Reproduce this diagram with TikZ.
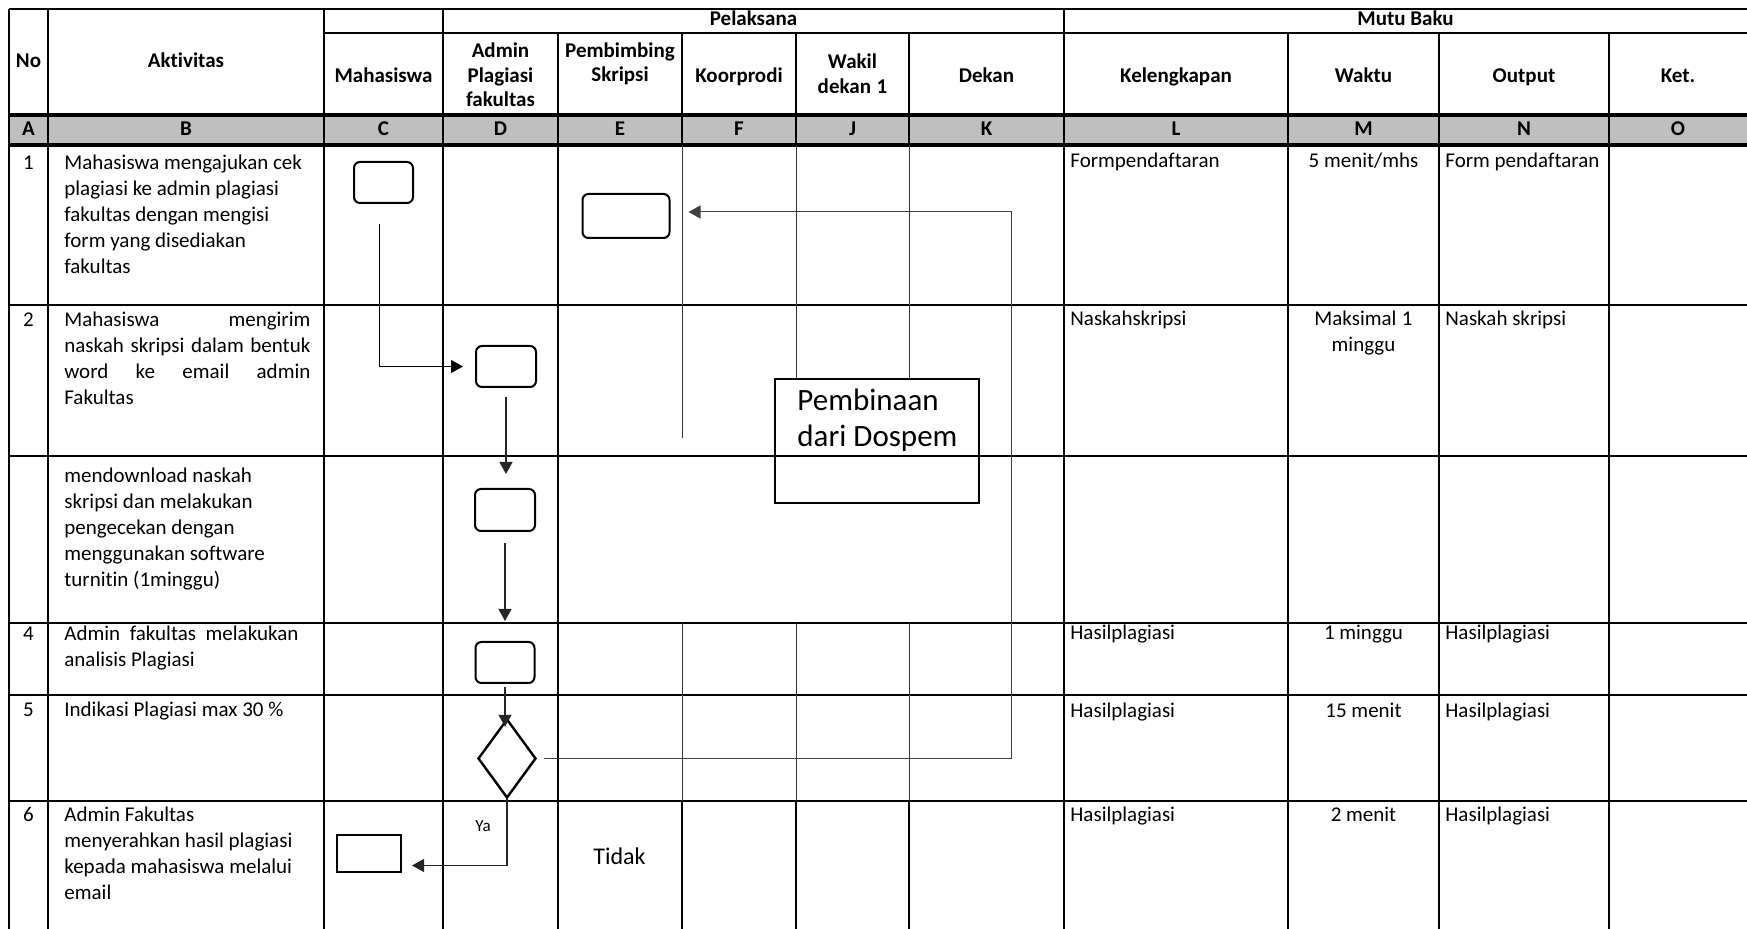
\documentclass[tikz,border=0pt]{standalone}
\usepackage{fontspec}
\setmainfont{Carlito}[Ligatures=NoCommon]
\usetikzlibrary{arrows.meta,shapes.geometric,positioning}
\newcommand{\spreadrow}[1]{\makebox[123pt][s]{#1}}
\newcommand{\natgap}{\spaceskip 0pt\relax\xspaceskip 0pt\relax}

\begin{document}
\begin{tikzpicture}[
  x=0.5pt, y=-0.5pt,
  font=\fontsize{10.5}{13}\selectfont,
  >={Triangle[length=6pt,width=6.5pt]},
  tline/.style={line width=1pt},
  theavy/.style={line width=2pt},
  thair/.style={line width=0.5pt, draw=black!80},
  head/.style={font=\bfseries\fontsize{10.5}{12.25}\selectfont, inner sep=0pt, anchor=base},
  headwide/.style={head, text width=#1, align=center},
  centred/.style={inner sep=0pt, anchor=base},
  cell/.style={inner sep=0pt, anchor=base west},
  celltext/.style={cell, text width=123pt, align=left},
  act/.style={draw, rounded corners=3pt, line width=1pt, inner sep=0pt},
  flow/.style={->, line width=0.6pt, draw=black!85},
  retour/.style={->, line width=0.5pt, draw=black!75}
]
  \useasboundingbox (0,0) rectangle (1747,929);

  % table grid
  \fill[black!25] (9,115) rectangle (1747,145);
  \draw[tline] (9,9) -- (1747,9);
  \draw[tline] (324,33) -- (1747,33);
  \draw[theavy] (9,115) -- (1747,115) (9,145) -- (1747,145);
  \foreach \y in {305,456,623,695,801}
    \draw[tline] (9,\y) -- (1747,\y);
  \foreach \x in {9,48,324,443,1064}
    \draw[tline] (\x,9) -- (\x,929);
  \foreach \x in {558,1288,1439,1609}
    \draw[tline] (\x,33) -- (\x,929);
  \foreach \x in {682,796,909}
    \draw[tline] (\x,33) -- (\x,145) (\x,801) -- (\x,929);
  \foreach \x in {682,796,909}
    \draw[thair] (\x,145) -- (\x,305) (\x,623) -- (\x,801);
  \draw[thair] (682,305) -- (682,438) (796,305) -- (796,379) (909,305) -- (909,379);

  % header
  \node[head] (hNo) at (28.5,68) {No};
  \node[head] (hAkt) at (186,68) {Aktivitas};
  \node[head] (hPel) at (753.5,26) {Pelaksana};
  \node[head] (hMutu) at (1405.5,26) {Mutu Baku};
  \node[head] (hMhs) at (383.5,83) {Mahasiswa};
  \node[headwide=55pt] (hAdm) at (500.5,58) {Admin\\Plagiasi\\fakultas};
  \node[headwide=60pt] (hPmb) at (620,57.5) {Pembimbing\\Skripsi};
  \node[head] (hKpr) at (739,83) {Koorprodi};
  \node[headwide=50pt] (hWd) at (852.5,69) {\natgap Wakil\\dekan 1};
  \node[head] (hDkn) at (986.5,83) {Dekan};
  \node[head] (hKlk) at (1176,83) {Kelengkapan};
  \node[head] (hWkt) at (1363.5,83) {Waktu};
  \node[head] (hOut) at (1524,83) {Output};
  \node[head] (hKet) at (1678,83) {Ket.};
  \foreach \x/\l in {28.5/A,186/B,383.5/C,500.5/D,620/E,739/F,852.5/J,986.5/K,1176/L,1363.5/M,1524/N,1678/O}
    \node[head] (col\l) at (\x,136) {\l};

  % rows
  \node[centred] (no1) at (28.5,170) {1};
  \node[centred] (no2) at (28.5,327) {2};
  \node[centred] (no4) at (28.5,641) {4};
  \node[centred] (no5) at (28.5,717) {5};
  \node[centred] (no6) at (28.5,822) {6};
  \node[celltext] (akt1) at (64,170) {\natgap Mahasiswa mengajukan cek\\plagiasi ke admin plagiasi\\fakultas dengan mengisi\\form yang disediakan\\fakultas};
  \node[celltext] (akt2) at (64,327) {\natgap\spreadrow{Mahasiswa mengirim}\\\spreadrow{naskah skripsi dalam bentuk}\\\spreadrow{word ke email admin}\\Fakultas};
  \node[celltext] (akt3) at (64,483) {\natgap mendownload naskah\\skripsi dan melakukan\\pengecekan dengan\\menggunakan software\\turnitin (1minggu)};
  \node[celltext] (akt4) at (64,641) {\natgap\makebox[117pt][s]{Admin fakultas melakukan}\\analisis Plagiasi};
  \node[celltext] (akt5) at (64,717) {\natgap Indikasi Plagiasi max 30 \%};
  \node[celltext] (akt6) at (64,822) {\natgap Admin Fakultas\\menyerahkan hasil plagiasi\\kepada mahasiswa melalui\\email};

  \node[cell] (klk1) at (1070,168) {Formpendaftaran};
  \node[centred] (wkt1) at (1363.5,168) {5 menit/mhs};
  \node[cell] (out1) at (1445,168) {Form pendaftaran};
  \node[cell] (klk2) at (1070,326) {Naskahskripsi};
  \node[centred, text width=60pt, align=center] (wkt2) at (1363.5,326) {\natgap Maksimal 1\\minggu};
  \node[cell] (out2) at (1445,326) {Naskah skripsi};
  \node[cell] (klk4) at (1070,640) {Hasilplagiasi};
  \node[centred] (wkt4) at (1363.5,640) {1 minggu};
  \node[cell] (out4) at (1445,640) {Hasilplagiasi};
  \node[cell] (klk5) at (1070,718) {Hasilplagiasi};
  \node[centred] (wkt5) at (1363.5,718) {15 menit};
  \node[cell] (out5) at (1445,718) {Hasilplagiasi};
  \node[cell] (klk6) at (1070,822) {Hasilplagiasi};
  \node[centred] (wkt6) at (1363.5,822) {2 menit};
  \node[cell] (out6) at (1445,822) {Hasilplagiasi};

  % flow
  \node[act, minimum width=29.5pt, minimum height=20.5pt] (mhsAju) at (383.5,182.5) {};
  \node[act, minimum width=43.5pt, minimum height=22pt] (dospem) at (626,216) {};
  \node[act, minimum width=30pt, minimum height=20.5pt] (admKirim) at (506,366.5) {};
  \node[act, minimum width=30pt, minimum height=21pt] (admCek) at (505,510) {};
  \node[act, minimum width=29.5pt, minimum height=20.5pt] (admAnalisis) at (505,662.5) {};
  \node[draw, diamond, line width=1.2pt, minimum width=29pt, minimum height=39.5pt, inner sep=0pt] (batas) at (507,758.5) {};
  \node[draw, line width=1pt, minimum width=32pt, minimum height=18.5pt, inner sep=0pt] (mhsTerima) at (369,853.5) {};
  \node[draw, line width=0.6pt, minimum width=102pt, minimum height=62pt, inner sep=0pt] (bina) at (877,441) {};
  \node[cell, text width=90pt, align=left, font=\fontsize{15.5}{18}\selectfont] (binaTeks) at (797,411) {\natgap Pembinaan\\dari Dospem};
  \node[centred, font=\fontsize{8.5}{10}\selectfont] (ya) at (483,832) {Ya};
  \node[centred, font=\fontsize{12}{14}\selectfont] (tidak) at (619.5,865) {Tidak};
  \coordinate (balik) at (1011,212);

  \draw[flow, draw=black, shorten <=10pt, shorten >=6pt] ([xshift=-2pt]mhsAju.south) |- (admKirim.west);
  \draw[flow, shorten <=4.5pt, shorten >=7pt] (admKirim.south) -- (admKirim.south |- admCek.north);
  \draw[flow, shorten <=5.5pt, shorten >=10pt] (admCek.south) -- (admCek.south |- admAnalisis.north);
  \draw[flow, shorten <=1.5pt, shorten >=-4.5pt] (admAnalisis.south) -- (admAnalisis.south |- batas.north);
  \draw[retour, shorten <=3.5pt, shorten >=9pt] (batas.east) -| (balik) -- (balik -| dospem.east);
  \draw[flow, shorten >=5pt] (batas.south) |- ([yshift=-6pt]mhsTerima.east);
\end{tikzpicture}
\end{document}
